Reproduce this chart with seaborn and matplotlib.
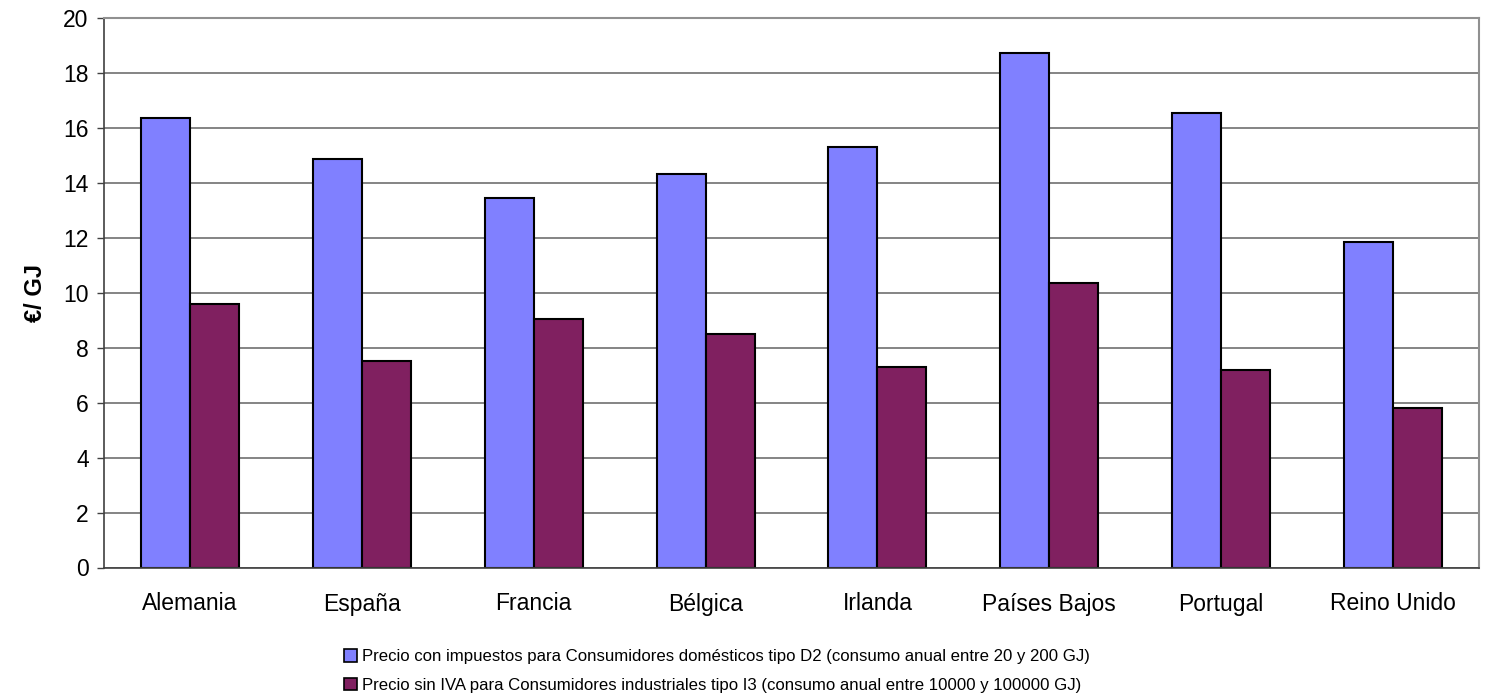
import pandas as pd
import numpy as np
import matplotlib
matplotlib.use('Agg')
import matplotlib.pyplot as plt
import seaborn as sns
from matplotlib.patches import Patch

# Data
paises = ['Alemania', 'España', 'Francia', 'Bélgica', 'Irlanda',
          'Países Bajos', 'Portugal', 'Reino Unido']
domesticos = [16.35, 14.85, 13.45, 14.32, 15.28, 18.70, 16.52, 11.83]
industriales = [9.58, 7.50, 9.03, 8.48, 7.29, 10.36, 7.18, 5.79]

serie_d2 = 'Precio con impuestos para Consumidores domésticos tipo D2 (consumo anual entre 20 y 200 GJ)'
serie_i3 = 'Precio sin IVA para Consumidores industriales tipo I3 (consumo anual entre 10000 y 100000 GJ)'

df = pd.DataFrame({
    'Pais': paises * 2,
    'Valor': domesticos + industriales,
    'Serie': [serie_d2] * len(paises) + [serie_i3] * len(paises),
})

sns.set_style('white')
plt.rcParams['font.family'] = ['Liberation Sans', 'DejaVu Sans']
plt.rcParams['text.color'] = 'black'
plt.rcParams['axes.labelcolor'] = 'black'
plt.rcParams['xtick.color'] = 'black'
plt.rcParams['ytick.color'] = 'black'

colores = {serie_d2: '#8080FF', serie_i3: '#802060'}

fig = plt.figure(figsize=(14.9, 6.99), dpi=100)
ax = fig.add_axes([104 / 1490, 1 - 567.5 / 699, (1479 - 104) / 1490, 550 / 699])

sns.barplot(data=df, x='Pais', y='Valor', hue='Serie', order=paises,
            hue_order=[serie_d2, serie_i3], palette=colores, width=0.57,
            edgecolor='black', linewidth=1.5, saturation=1, ax=ax, legend=False)

ax.set_ylim(0, 20)
ax.set_xlim(-0.5, len(paises) - 0.5)
ax.set_yticks(range(0, 21, 2))
ax.yaxis.grid(True, color='#707070', linewidth=1.2)
ax.set_axisbelow(True)

ax.set_xlabel('')
ax.set_ylabel('€/ GJ', fontsize=17, fontweight='bold', labelpad=12)

# ticks between categories
ax.set_xticks(np.arange(-0.5, len(paises)), minor=True)
ax.tick_params(axis='x', which='major', length=0, pad=18, labelsize=16.5)
ax.tick_params(axis='x', which='minor', length=6, width=1, color='#404040', direction='out')
ax.tick_params(axis='y', which='major', length=5, width=1, color='#404040',
               direction='out', labelsize=16.5, pad=6, left=True)

for s in ['left', 'bottom']:
    ax.spines[s].set_color('#404040')
    ax.spines[s].set_linewidth(1.2)
for s in ['top', 'right']:
    ax.spines[s].set_color('#909090')
    ax.spines[s].set_linewidth(1.5)

handles = [Patch(facecolor=colores[serie_d2], edgecolor='black', linewidth=1.2, label=serie_d2),
           Patch(facecolor=colores[serie_i3], edgecolor='black', linewidth=1.2, label=serie_i3)]
fig.legend(handles=handles, loc='upper left', bbox_to_anchor=(336 / 1490, 1 - 641 / 699),
           frameon=False, fontsize=12.1, handlelength=0.75, handleheight=0.75,
           handletextpad=0.3, labelspacing=0.8, borderpad=0)

fig.savefig('out.png', dpi=100)
